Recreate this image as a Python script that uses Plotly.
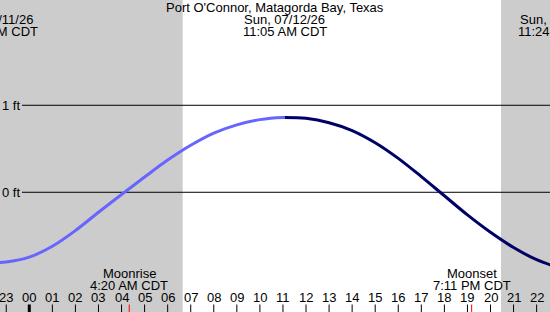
import plotly.graph_objects as go

# ---- data ----
hours = [-2, -1, 0, 1, 2, 3, 4, 5, 6, 7, 8, 9, 10, 11, 11.083, 12, 13, 14, 15, 16, 17, 18, 19, 20, 21, 22, 23]
heights = [-0.81, -0.80, -0.745, -0.62, -0.44, -0.23, -0.025, 0.175, 0.37, 0.54, 0.68, 0.775, 0.835, 0.86, 0.86,
           0.85, 0.80, 0.71, 0.57, 0.39, 0.18, -0.04, -0.26, -0.46, -0.635, -0.775, -0.87]
now_hour = 11.083
sunrise, sunset = 6.65, 20.455
moonrise, moonset = 4.333, 19.183
tick_hours = list(range(-1, 23))
tick_text = ["23"] + [f"{h:02d}" for h in range(0, 23)]
x_range = [-1.2706, 22.580]
y_range = [-1.376, 2.210]
level_vals = [0, 1]
level_text = ["0 ft", "1 ft"]

title = "Port O'Connor, Matagorda Bay, Texas"
top_labels = [  # (x hour, line2, line3)
    (-1.50, "Sat, 07/11/26", "10:30 PM CDT"),
    (now_hour, "Sun, 07/12/26", "11:05 AM CDT"),
    (23.03, "Sun, 07/12/26", "11:24 PM CDT"),
]
moon_labels = [(moonrise, "Moonrise", "4:20 AM CDT"), (moonset, "Moonset", "7:11 PM CDT")]

FONT = "Liberation Sans, Arial, sans-serif"
FS = 13
W, H = 550, 312

past_x = [h for h in hours if h <= now_hour]
past_y = [v for h, v in zip(hours, heights) if h <= now_hour]
fut_x = [h for h in hours if h >= now_hour]
fut_y = [v for h, v in zip(hours, heights) if h >= now_hour]

fig = go.Figure()
fig.add_trace(go.Scatter(x=past_x, y=past_y, mode="lines", line=dict(color="#6666FF", width=3, shape="spline"),
                         hoverinfo="skip", showlegend=False))
fig.add_trace(go.Scatter(x=fut_x, y=fut_y, mode="lines", line=dict(color="#000066", width=3, shape="spline"),
                         hoverinfo="skip", showlegend=False))

shapes = []
gray = "#CCCCCC"
shapes.append(dict(type="rect", xref="x", yref="paper", x0=x_range[0] - 1, x1=sunrise, y0=0, y1=1,
                   fillcolor=gray, line=dict(width=0), layer="below"))
shapes.append(dict(type="rect", xref="x", yref="paper", x0=sunset, x1=x_range[1] + 1, y0=0, y1=1,
                   fillcolor=gray, line=dict(width=0), layer="below"))
for v in level_vals:
    shapes.append(dict(type="line", xref="paper", yref="y", x0=22 / W, x1=1, y0=v, y1=v,
                       line=dict(color="black", width=1), layer="below"))
for h in tick_hours:
    shapes.append(dict(type="line", xref="x", yref="paper", x0=h, x1=h, y0=0, y1=7.5 / H,
                       line=dict(color="black", width=3 if h == 0 else 1), layer="above"))
for h in (moonrise, moonset):
    shapes.append(dict(type="line", xref="x", yref="paper", x0=h, x1=h, y0=0, y1=7.5 / H,
                       line=dict(color="red", width=1), layer="above"))

ann = []
def px(hour):
    return (hour - x_range[0]) / (x_range[1] - x_range[0])

def py(pix):
    return 1 - pix / H

def text(x, y, s):
    ann.append(dict(x=x, y=y, xref="paper", yref="paper", text=s, showarrow=False, xanchor="center",
                    yanchor="middle", font=dict(family=FONT, size=FS, color="black")))

text(0.5, py(7.5), title)
for x, a, b in top_labels:
    text(px(x), py(19.5), a)
    text(px(x), py(31.5), b)
for x, a, b in moon_labels:
    text(px(x), py(273.5), a)
    text(px(x), py(285.5), b)
for h, t in zip(tick_hours, tick_text):
    text(px(h), py(297.5), t)
for v, t in zip(level_vals, level_text):
    ann.append(dict(x=0, y=v, xref="paper", yref="y", text=t, showarrow=False, xanchor="left",
                    yanchor="middle", font=dict(family=FONT, size=FS, color="black")))

fig.update_layout(
    width=W, height=H, margin=dict(l=0, r=0, t=0, b=0),
    paper_bgcolor="white", plot_bgcolor="white",
    xaxis=dict(range=x_range, visible=False, fixedrange=True),
    yaxis=dict(range=y_range, visible=False, fixedrange=True),
    shapes=shapes, annotations=ann, showlegend=False,
)
fig.write_html("out.html", config={"displayModeBar": False})
